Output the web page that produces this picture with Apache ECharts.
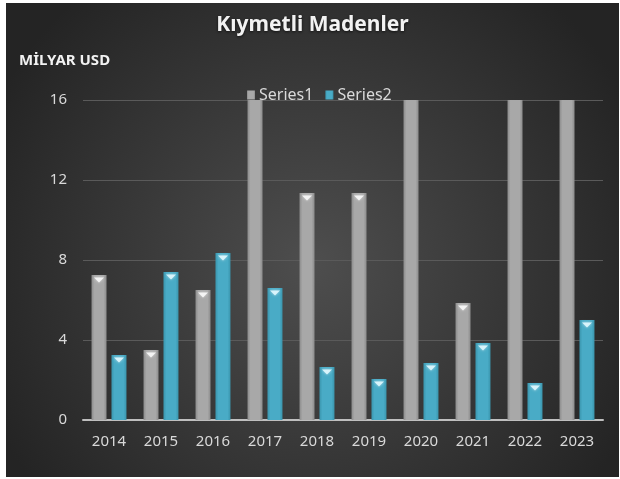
<!DOCTYPE html>
<html>
<head>
<meta charset="utf-8">
<script src="https://cdn.jsdelivr.net/npm/echarts@6/dist/echarts.min.js"></script>
<style>
  html, body { margin: 0; padding: 0; background: #ffffff; }
  #chart { position: absolute; left: 6px; top: 3px; width: 613px; height: 474px; }
</style>
</head>
<body>
<div id="chart"></div>
<script>
// data
const years = ['2014', '2015', '2016', '2017', '2018', '2019', '2020', '2021', '2022', '2023'];
const series1 = [7.25, 3.5, 6.5, 18.4, 11.35, 11.35, 19.2, 5.85, 17.6, 20.3];
const series2 = [3.25, 7.4, 8.35, 6.6, 2.65, 2.05, 2.85, 3.85, 1.85, 5.0];
const yTicks = [0, 4, 8, 12, 16];

const yMax = 16;
const FONT = 'Noto Sans';

function barGrad(edge, mid) {
    return new echarts.graphic.LinearGradient(0, 0, 1, 0, [
        { offset: 0, color: edge },
        { offset: 0.2, color: mid },
        { offset: 0.8, color: mid },
        { offset: 1, color: edge }
    ]);
}

// little white bevel cap on top of every bar that is not cut off
function caps(values) {
    return values.map(v => (v > yMax ? '-' : v));
}

const chart = echarts.init(document.getElementById('chart'));

chart.setOption({
    backgroundColor: new echarts.graphic.RadialGradient(0.5, 0.55, 0.75, [
        { offset: 0, color: '#4e4e4e' },
        { offset: 1, color: '#242424' }
    ]),
    title: [{
        text: 'Kıymetli Madenler',
        left: 'center',
        top: 7,
        textStyle: {
            color: '#f2f2f2', fontSize: 21, fontWeight: 'bold', fontFamily: FONT,
            textShadowColor: 'rgba(0,0,0,0.7)', textShadowBlur: 3, textShadowOffsetY: 1
        }
    }, {
        text: 'MİLYAR USD',
        left: 8,
        top: 45,
        textStyle: { color: '#f2f2f2', fontSize: 15, fontWeight: 'bold', fontFamily: FONT }
    }],
    legend: {
        data: ['Series1', 'Series2'],
        left: 236,
        top: 79,
        itemWidth: 8,
        itemHeight: 9,
        itemGap: 12,
        icon: 'rect',
        textStyle: { color: '#d9d9d9', fontSize: 16, fontFamily: FONT, padding: [0, 0, 0, -1] }
    },
    grid: { left: 77, right: 16, top: 97, bottom: 57, containLabel: false },
    xAxis: {
        type: 'category',
        data: years,
        axisLine: { lineStyle: { color: '#bfbfbf', width: 2 } },
        axisTick: { show: false },
        axisLabel: { color: '#d9d9d9', fontSize: 15, fontFamily: FONT, margin: 14 }
    },
    yAxis: {
        type: 'value',
        min: yTicks[0],
        max: yTicks[yTicks.length - 1],
        interval: 4,
        axisLine: { show: false },
        axisTick: { show: false },
        splitLine: { lineStyle: { color: '#5a5a5a', width: 1 } },
        axisLabel: { color: '#d9d9d9', fontSize: 15, fontFamily: FONT, margin: 16 }
    },
    series: [{
        name: 'Series1',
        type: 'bar',
        data: series1,
        barWidth: 15,
        barGap: '33%',
        clip: true,
        itemStyle: { color: barGrad('#8c8c8c', '#a8a8a8') }
    }, {
        name: 'Series2',
        type: 'bar',
        data: series2,
        barWidth: 15,
        barGap: '33%',
        clip: true,
        itemStyle: { color: barGrad('#3a95ad', '#49abc6') }
    }, {
        name: 'cap1',
        type: 'pictorialBar',
        data: caps(series1),
        barWidth: 15,
        barGap: '33%',
        symbol: 'path://M0,0 L10,0 L5,5 Z',
        symbolSize: [10, 5],
        symbolPosition: 'end',
        symbolOffset: [0, '50%'],
        itemStyle: { color: '#f4f4f4', shadowColor: 'rgba(255,255,255,0.6)', shadowBlur: 3 },
        silent: true,
        z: 5
    }, {
        name: 'cap2',
        type: 'pictorialBar',
        data: caps(series2),
        barWidth: 15,
        barGap: '33%',
        symbol: 'path://M0,0 L10,0 L5,5 Z',
        symbolSize: [10, 5],
        symbolPosition: 'end',
        symbolOffset: [0, '50%'],
        itemStyle: { color: '#d8f4fb', shadowColor: 'rgba(255,255,255,0.6)', shadowBlur: 3 },
        silent: true,
        z: 5
    }]
});
</script>
</body>
</html>
